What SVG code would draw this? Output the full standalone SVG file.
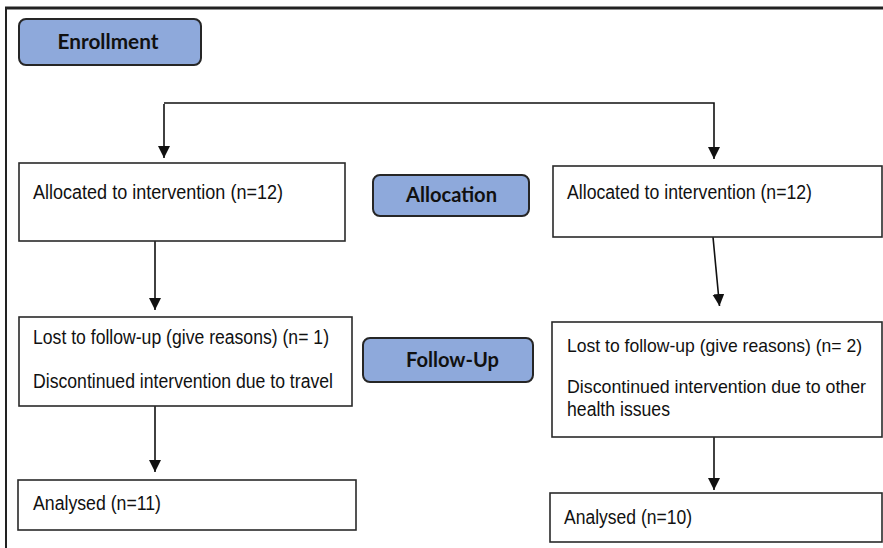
<svg xmlns="http://www.w3.org/2000/svg" width="883" height="548" viewBox="0 0 883 548">
<style>
.box{fill:#fff;stroke:#2a2a2a;stroke-width:1.6}
.hdr{fill:#8EA9DB;stroke:#262626;stroke-width:2}
.t{font-family:"Liberation Sans Narrow","Liberation Sans",Arial,sans-serif;font-size:20px;fill:#111}
.s{font-size:18.5px}
.h{font-family:Lato,"Open Sans","Liberation Sans",sans-serif;font-weight:bold;font-size:20px;fill:#111;text-anchor:middle}
.c{fill:none;stroke:#111;stroke-width:1.6}
</style>
<defs>
<marker id="a" markerUnits="userSpaceOnUse" markerWidth="12" markerHeight="12" refX="12" refY="6" orient="auto" viewBox="0 0 12 12">
<path d="M0,0 L12,6 L0,12 Z" fill="#111"/>
</marker>
</defs>
<g id="frame">
<path d="M5 8 H883" stroke="#222" stroke-width="3" fill="none"/>
<path d="M6 8 V548" stroke="#222" stroke-width="2" fill="none"/>
</g>
<g id="connectors">
<path class="c" d="M164 104 V158" marker-end="url(#a)"/>
<path class="c" d="M164 103 H714 V159" marker-end="url(#a)"/>
<path class="c" d="M155 241 V310" marker-end="url(#a)"/>
<path class="c" d="M713 237 L719.5 306" marker-end="url(#a)"/>
<path class="c" d="M155 406 V472" marker-end="url(#a)"/>
<path class="c" d="M714 437 V490" marker-end="url(#a)"/>
</g>
<g id="enrollment">
<rect class="hdr" x="19" y="19" width="182" height="46" rx="7"/>
<text class="h" x="108" y="49" textLength="101" lengthAdjust="spacingAndGlyphs">Enrollment</text>
</g>
<g id="allocation">
<rect class="hdr" x="373" y="175" width="156" height="41" rx="7"/>
<text class="h" x="451.5" y="202" textLength="91" lengthAdjust="spacingAndGlyphs">Allocation</text>
</g>
<g id="followup">
<rect class="hdr" x="363" y="338" width="170" height="44" rx="7"/>
<text class="h" x="452.5" y="367" textLength="93" lengthAdjust="spacingAndGlyphs">Follow-Up</text>
</g>
<g id="left-allocated">
<rect class="box" x="19" y="163" width="326" height="78"/>
<text class="t" x="33" y="199" textLength="250" lengthAdjust="spacingAndGlyphs">Allocated to intervention (n=12)</text>
</g>
<g id="right-allocated">
<rect class="box" x="553" y="166" width="329" height="71"/>
<text class="t" x="567" y="199" textLength="245" lengthAdjust="spacingAndGlyphs">Allocated to intervention (n=12)</text>
</g>
<g id="left-followup">
<rect class="box" x="19" y="317" width="333" height="89"/>
<text class="t" x="33" y="344" textLength="296" lengthAdjust="spacingAndGlyphs">Lost to follow-up (give reasons) (n= 1)</text>
<text class="t" x="33" y="388" textLength="300" lengthAdjust="spacingAndGlyphs">Discontinued intervention due to travel</text>
</g>
<g id="right-followup">
<rect class="box" x="552" y="322" width="330" height="115"/>
<text class="t s" x="567" y="352" textLength="295" lengthAdjust="spacingAndGlyphs">Lost to follow-up (give reasons) (n= 2)</text>
<text class="t s" x="567" y="393" textLength="299" lengthAdjust="spacingAndGlyphs">Discontinued intervention due to other</text>
<text class="t" x="567" y="416" textLength="103" lengthAdjust="spacingAndGlyphs">health issues</text>
</g>
<g id="left-analysed">
<rect class="box" x="18" y="480" width="338" height="50"/>
<text class="t" x="33" y="510" textLength="128" lengthAdjust="spacingAndGlyphs">Analysed (n=11)</text>
</g>
<g id="right-analysed">
<rect class="box" x="550" y="493" width="332" height="49"/>
<text class="t" x="564" y="524" textLength="128" lengthAdjust="spacingAndGlyphs">Analysed (n=10)</text>
</g>
</svg>
